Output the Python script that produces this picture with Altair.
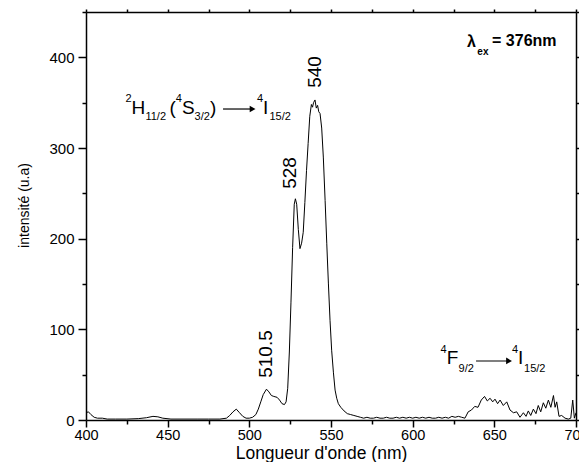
import altair as alt
import pandas as pd

FONT = "Liberation Sans"

# ---- spectrum ----
wavelength = [400, 401.5, 403, 405, 407, 410, 413, 418, 425, 432, 437, 441, 444, 447, 452, 460, 468, 475,
              482, 486, 488, 490, 492, 494, 496, 498, 500, 502, 504, 505.5, 507, 508.5, 510.5, 512, 513.5,
              515, 517, 518.5, 520, 521.5, 522.5, 523.5, 524.5, 525.5, 526.5, 527.5, 528.2, 529, 530, 531,
              532, 533, 534, 535, 536, 537, 538, 538.7, 539.3, 540.2, 541, 541.8, 542.5, 543.3, 544.3,
              545.3, 546.4, 547.4, 548.4, 549.4, 550.4, 551.5, 552.5, 553.5, 554.5, 556, 558, 560, 562,
              564, 566, 568, 570, 572, 574, 576, 578, 580, 582, 584, 586, 588, 590, 592, 594, 596, 598,
              600, 602, 604, 606, 608, 610, 612, 614, 616, 618, 620, 622, 624, 626, 628, 630, 632, 634,
              636, 638, 640, 642, 644, 645.7, 647.4, 649, 650.4, 652, 653.5, 655.5, 657.6, 659.6, 661.7,
              663.7, 665.7, 667.8, 669.4, 670.8, 672.3, 673.9, 675.5, 676.9, 678.4, 680, 681.5, 683.1,
              684.6, 686.2, 687.2, 688.2, 689.6, 691.2, 693.3, 695.3, 696.8, 698, 699, 700]
intensity = [8, 9, 6, 3, 2, 2, 1, 1, 1, 1.5, 2.5, 4, 3.5, 2, 1, 1, 1, 1,
             1, 2, 5, 9, 12, 8, 4, 2, 2, 3, 6, 12, 20, 28, 34, 31, 27,
             26, 25, 22, 18, 17, 20, 35, 75, 130, 190, 238, 244, 238, 210, 189,
             195, 207, 240, 275, 305, 335, 348, 345, 350, 353, 344, 347, 340, 338, 322,
             290, 242, 195, 151, 110, 77, 52, 33, 24, 18, 14, 10, 7, 6,
             5, 4, 3, 2, 3, 2, 2, 3, 2, 2, 3, 2, 2, 3, 2, 3, 2, 3,
             2, 3, 2, 3, 2, 3, 2, 2, 3, 2, 3, 2, 4, 3, 4, 3, 2, 9,
             11, 15, 14, 22, 26, 21, 24, 20, 23, 18, 22, 16, 20, 11, 8,
             9, 3, 8, 4, 10, 5, 12, 7, 16, 9, 19, 13, 22,
             14, 27, 14, 20, 4, 5, 2, 1, 2, 22, 2, 8]

x_ticks = list(range(400, 701, 25))
y_ticks = list(range(0, 451, 50))

# ---- transition labels (pieces with sub/superscripts) ----
ann_text = ["2", "H", "11/2", "(", "4", "S", "3/2", ")", "4", "I", "15/2",
            "4", "F", "9/2", "4", "I", "15/2"]
ann_x = [424.2, 427.9, 436.4, 451.1, 454.9, 458.7, 466.5, 475.9, 504.7, 508.4, 512.3,
         617.0, 620.8, 628.1, 660.8, 664.5, 668.2]
ann_y = [350.7, 337.5, 330.9, 337.5, 350.7, 337.5, 330.9, 337.5, 350.7, 337.5, 330.9,
         73.9, 61.8, 52.9, 73.9, 61.8, 52.9]
ann_size = [11, 19, 11, 19, 11, 19, 11, 19, 11, 19, 11,
            11, 19, 11, 11, 19, 11]

arrow_x0 = [483.9, 638.8]
arrow_x1 = [502.0, 659.0]
arrow_y = [343.0, 65.1]

peak_text = ["540", "528", "510.5"]
peak_x = [540.2, 524.9, 510.2]
peak_y = [383.8, 272.4, 72.8]

ex_text = ["λ", "ex", "= 376nm"]
ex_x = [633.3, 639.6, 648.6]
ex_y = [411.4, 402.6, 412.5]
ex_size = [16, 10, 16]

spec = pd.DataFrame({"wl": wavelength, "I": intensity})
ann = pd.DataFrame({"x": ann_x, "y": ann_y, "t": ann_text, "s": ann_size})
arrows = pd.DataFrame({"x0": arrow_x0, "x1": arrow_x1, "y": arrow_y})
peaks = pd.DataFrame({"x": peak_x, "y": peak_y, "t": peak_text})
ex = pd.DataFrame({"x": ex_x, "y": ex_y, "t": ex_text, "s": ex_size})

xscale = alt.Scale(domain=[400, 700], nice=False, zero=False)
yscale = alt.Scale(domain=[0, 450], nice=False)

x_axis = alt.Axis(
    values=x_ticks,
    labelExpr="datum.value % 50 === 0 ? datum.label : ''",
    tickSize={"condition": {"test": "datum.value % 50 === 0", "value": 7}, "value": 4},
    labelFontSize=14.5, labelPadding=1, labelFlush=False, labelOverlap=False,
    title="Longueur d'onde (nm)", titleFontSize=17.5, titleFontWeight="normal",
    titleX=235, titleY=38, titleBaseline="alphabetic", titleAlign="center",
)
y_axis = alt.Axis(
    values=y_ticks,
    labelExpr="datum.value % 100 === 0 ? datum.label : ''",
    tickSize={"condition": {"test": "datum.value % 100 === 0", "value": 8}, "value": 4},
    labelFontSize=15, labelPadding=4, labelFlush=False, labelOverlap=False,
    title="intensité (u.a)", titleFontSize=14, titleFontWeight="normal",
    titleX=-62, titleY=193, titleAngle=270, titleBaseline="middle", titleAlign="center",
)

line = alt.Chart(spec).mark_line(color="black", strokeWidth=1, clip=True).encode(
    x=alt.X("wl:Q", scale=xscale, axis=x_axis),
    y=alt.Y("I:Q", scale=yscale, axis=y_axis),
)

mirror = alt.Chart(spec).mark_line(opacity=0).encode(
    x=alt.X("wl:Q", scale=xscale,
            axis=alt.Axis(orient="top", values=x_ticks, labels=False, tickSize=3, title=None)),
    y=alt.Y("I:Q", scale=yscale,
            axis=alt.Axis(orient="right", values=y_ticks, labels=False, tickSize=3, title=None)),
)

ann_layer = alt.Chart(ann).mark_text(align="left", baseline="alphabetic", font=FONT, color="black").encode(
    x=alt.X("x:Q", scale=xscale, axis=None),
    y=alt.Y("y:Q", scale=yscale, axis=None),
    text="t:N",
    size=alt.Size("s:Q", scale=None),
)

arrow_line = alt.Chart(arrows).mark_rule(color="black", strokeWidth=1.2).encode(
    x=alt.X("x0:Q", scale=xscale, axis=None),
    x2="x1:Q",
    y=alt.Y("y:Q", scale=yscale, axis=None),
)
arrow_head = alt.Chart(arrows).mark_point(shape="triangle-right", filled=True, color="black",
                                          opacity=1, size=45).encode(
    x=alt.X("x1:Q", scale=xscale, axis=None),
    y=alt.Y("y:Q", scale=yscale, axis=None),
)

peak_layer = alt.Chart(peaks).mark_text(angle=270, align="center", baseline="middle", font=FONT,
                                        fontSize=19, color="black").encode(
    x=alt.X("x:Q", scale=xscale, axis=None),
    y=alt.Y("y:Q", scale=yscale, axis=None),
    text="t:N",
)

ex_layer = alt.Chart(ex).mark_text(align="left", baseline="alphabetic", font=FONT, fontWeight="bold",
                                   color="black").encode(
    x=alt.X("x:Q", scale=xscale, axis=None),
    y=alt.Y("y:Q", scale=yscale, axis=None),
    text="t:N",
    size=alt.Size("s:Q", scale=None),
)

chart = alt.layer(line, mirror, ann_layer, arrow_line, arrow_head, peak_layer, ex_layer).resolve_axis(
    x="independent", y="independent"
).properties(
    width=490, height=408,
    padding={"left": 78, "top": 4, "right": 3, "bottom": 42},
    autosize=alt.AutoSizeParams(type="none"),
).configure_view(stroke=None).configure_axis(
    domainColor="black", domainWidth=1.5, tickColor="black", tickWidth=1.5,
    labelColor="black", titleColor="black", labelFont=FONT, titleFont=FONT, grid=False,
)

chart.save("out.html", embed_options={"renderer": "svg", "actions": False})
